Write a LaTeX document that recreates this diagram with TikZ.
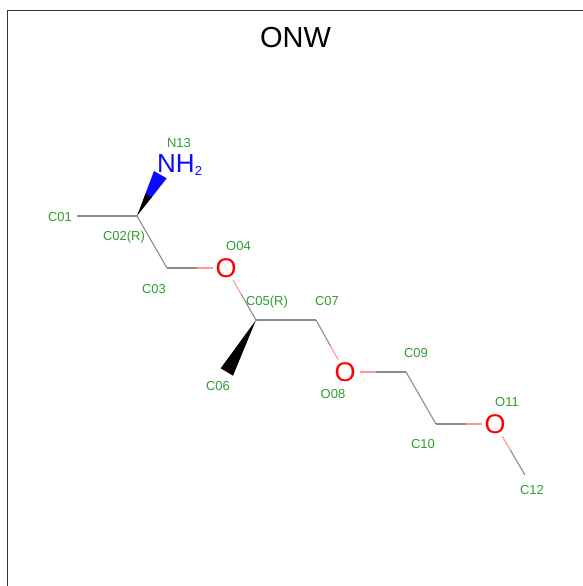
\documentclass[tikz,border=0pt]{standalone}
\usepackage{fontspec}
\setmainfont{Liberation Sans}
\usetikzlibrary{calc}
\definecolor{lab}{RGB}{46,158,46}
\definecolor{bondgray}{RGB}{140,140,140}
\definecolor{bondpink}{RGB}{255,150,150}
\definecolor{nblue}{RGB}{10,10,255}
\tikzset{
  atomlabel/.style={text=lab,font=\fontsize{13}{13}\selectfont,inner sep=0pt,yshift=-0.8pt},
  hetero/.style={font=\fontsize{27}{27}\selectfont,inner sep=0pt},
  cbond/.style={draw=bondgray,line width=1.1pt},
  obond/.style={draw=bondpink,line width=1.1pt}
}
\newcommand{\halfbond}[3]{% carbon, oxygen, gap at the oxygen
  \draw[cbond] (#1) -- ($(#1)!.5!(#2)$);
  \draw[obond,shorten >=#3] ($(#1)!.5!(#2)$) -- (#2);
}
\begin{document}
\begin{tikzpicture}[x=1pt,y=-1pt]
\useasboundingbox (0,0) rectangle (583,586);
\draw[line width=1pt,color=black!80] (7.5,586) -- (7.5,11) -- (583,11);
\node[font=\fontsize{29}{29}\selectfont,inner sep=0pt] (title) at (295.5,38) {ONW};
\coordinate (a01) at (77,216);
\coordinate (a02) at (137,216);
\coordinate (a03) at (167,268);
\coordinate (a04) at (226,268);
\coordinate (a05) at (256,320);
\coordinate (a07) at (316,320);
\coordinate (a08) at (345,372);
\coordinate (a09) at (406,372);
\coordinate (a10) at (436,424);
\coordinate (a11) at (495,424);
\coordinate (a12) at (525,475);
\coordinate (w1) at (154,171);
\coordinate (w2) at (166.7,178.3);
\coordinate (w3) at (220.7,368.3);
\coordinate (w4) at (233,375.7);
% carbon-carbon bonds
\draw[cbond] (a01) -- (a02);
\draw[cbond] (a02) -- (a03);
\draw[cbond] (a05) -- (a07);
\draw[cbond] (a09) -- (a10);
% carbon-oxygen bonds
\halfbond{a03}{a04}{13pt}
\halfbond{a05}{a04}{14pt}
\halfbond{a07}{a08}{14pt}
\halfbond{a09}{a08}{15pt}
\halfbond{a10}{a11}{13pt}
\halfbond{a12}{a11}{14pt}
% wedges
\fill[nblue] (w1) -- (w2) -- ($(a02)!.48!(w2)$) -- ($(a02)!.48!(w1)$) -- cycle;
\fill[black] (a02) -- ($(a02)!.5!(w2)$) -- ($(a02)!.5!(w1)$) -- cycle;
\fill[black] (a05) -- (w3) -- (w4) -- cycle;
% heteroatoms
\node[hetero,text=red] (o04) at (226,268) {O};
\node[hetero,text=red] (o08) at (345,372) {O};
\node[hetero,text=red] (o11) at (495,424) {O};
\node[hetero,text=nblue,anchor=base west] (n13) at (157,172.3) {\fontsize{26}{26}\selectfont NH\raisebox{-3.5pt}{\fontsize{13}{13}\selectfont 2}};
% labels
\node[atomlabel] (l01) at (60,216) {C01};
\node[atomlabel] (l02) at (124,236) {C02(R)};
\node[atomlabel] (l03) at (154,288) {C03};
\node[atomlabel] (l04) at (238.5,245) {O04};
\node[atomlabel] (l05) at (267,301) {C05(R)};
\node[atomlabel] (l06) at (218,385) {C06};
\node[atomlabel] (l07) at (327,300) {C07};
\node[atomlabel] (l08) at (333,393) {O08};
\node[atomlabel] (l09) at (416,352) {C09};
\node[atomlabel] (l10) at (423,443) {C10};
\node[atomlabel] (l11) at (507,401) {O11};
\node[atomlabel] (l12) at (532,489) {C12};
\node[atomlabel] (l13) at (179,142) {N13};
\end{tikzpicture}
\end{document}
